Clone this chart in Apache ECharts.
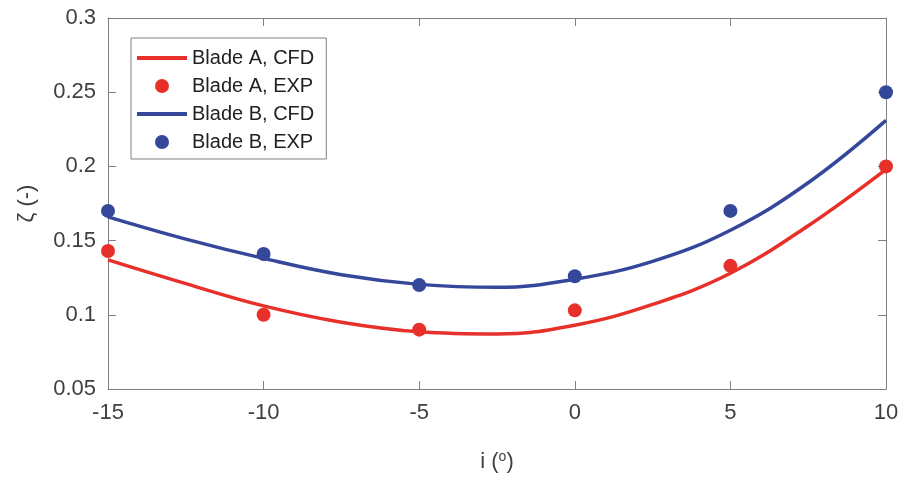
<!DOCTYPE html>
<html>
<head>
<meta charset="utf-8">
<script src="https://cdn.jsdelivr.net/npm/echarts@6/dist/echarts.min.js"></script>
<style>
  html, body { margin: 0; padding: 0; background: #fff; }
  #chart { width: 903px; height: 482px; }
</style>
</head>
<body>
<div id="chart"></div>
<script>
// incidence angle (deg) for measured points
const expAngles = [-15, -10, -5, 0, 5, 10];
const bladeAExp = [0.143, 0.100, 0.090, 0.103, 0.133, 0.200];
const bladeBExp = [0.170, 0.141, 0.120, 0.126, 0.170, 0.250];

// CFD curves
const cfdAngles = [-15, -12.5, -10, -7.5, -5, -2.5, 0, 2.5, 5, 7.5, 10];
const bladeACfd = [0.137, 0.121, 0.106, 0.095, 0.0885, 0.087, 0.093, 0.107, 0.128, 0.160, 0.198];
const bladeBCfd = [0.166, 0.151, 0.138, 0.127, 0.1205, 0.1185, 0.124, 0.136, 0.157, 0.189, 0.231];

const seriesNames = ['Blade A, CFD', 'Blade A, EXP', 'Blade B, CFD', 'Blade B, EXP'];

const red = '#e8302a';
const blue = '#35479b';
const axisGrey = '#808080';
const textGrey = '#404040';
const font = 'Liberation Sans, Arial, sans-serif';
const lineIcon = 'path://M0,0h50v4h-50z';

const pairs = (xs, ys) => xs.map((x, i) => [x, ys[i]]);

const chart = echarts.init(document.getElementById('chart'));

const boxAxis = {
  axisLine: { show: true, onZero: false, lineStyle: { color: axisGrey, width: 1 } },
  axisTick: { show: true, inside: true, length: 8, lineStyle: { color: axisGrey } },
  splitLine: { show: false }
};

const option = {
  animation: false,
  grid: { left: 108, right: 17, top: 18, bottom: 93 },
  legend: {
    data: [
      { name: seriesNames[0], icon: lineIcon },
      { name: seriesNames[1], icon: 'circle' },
      { name: seriesNames[2], icon: lineIcon },
      { name: seriesNames[3], icon: 'circle' }
    ],
    orient: 'vertical',
    left: 131,
    top: 38,
    padding: [10, 12, 7, 6],
    itemWidth: 50,
    itemHeight: 14,
    itemGap: 8,
    borderColor: axisGrey,
    borderWidth: 1,
    backgroundColor: '#fff',
    textStyle: { fontFamily: font, fontSize: 20, color: '#222', lineHeight: 20 }
  },
  xAxis: [
    Object.assign({}, boxAxis, {
      type: 'value',
      min: -15,
      max: 10,
      interval: 5,
      position: 'bottom',
      name: 'i ({sup|o})',
      nameLocation: 'middle',
      nameGap: 61,
      nameTextStyle: {
        fontFamily: font, fontSize: 22, color: textGrey,
        rich: { sup: { fontFamily: font, fontSize: 14, color: textGrey, verticalAlign: 'top', padding: [0, 0, 10, 0] } }
      },
      axisLabel: { fontFamily: font, fontSize: 22, color: textGrey, margin: 13 }
    }),
    Object.assign({}, boxAxis, {
      type: 'value', min: -15, max: 10, interval: 5, position: 'top',
      axisLabel: { show: false }
    })
  ],
  yAxis: [
    Object.assign({}, boxAxis, {
      type: 'value',
      min: 0.05,
      max: 0.3,
      interval: 0.05,
      position: 'left',
      name: 'ζ (-)',
      nameLocation: 'middle',
      nameGap: 70,
      nameTextStyle: { fontFamily: font, fontSize: 22, color: textGrey },
      axisLabel: { fontFamily: font, fontSize: 22, color: textGrey, margin: 12 }
    }),
    Object.assign({}, boxAxis, {
      type: 'value', min: 0.05, max: 0.3, interval: 0.05, position: 'right',
      axisLabel: { show: false }
    })
  ],
  series: [
    {
      name: seriesNames[0],
      type: 'line',
      smooth: 0.4,
      showSymbol: false,
      symbol: 'none',
      lineStyle: { color: red, width: 3.5 },
      itemStyle: { color: red },
      data: pairs(cfdAngles, bladeACfd),
      z: 2
    },
    {
      name: seriesNames[1],
      type: 'scatter',
      symbol: 'circle',
      symbolSize: 14,
      clip: false,
      itemStyle: { color: red, opacity: 1 },
      data: pairs(expAngles, bladeAExp),
      z: 3
    },
    {
      name: seriesNames[2],
      type: 'line',
      smooth: 0.4,
      showSymbol: false,
      symbol: 'none',
      lineStyle: { color: blue, width: 3.5 },
      itemStyle: { color: blue },
      data: pairs(cfdAngles, bladeBCfd),
      z: 2
    },
    {
      name: seriesNames[3],
      type: 'scatter',
      symbol: 'circle',
      symbolSize: 14,
      clip: false,
      itemStyle: { color: blue, opacity: 1 },
      data: pairs(expAngles, bladeBExp),
      z: 3
    }
  ]
};

chart.setOption(option);
window.addEventListener('resize', () => chart.resize());
</script>
</body>
</html>
